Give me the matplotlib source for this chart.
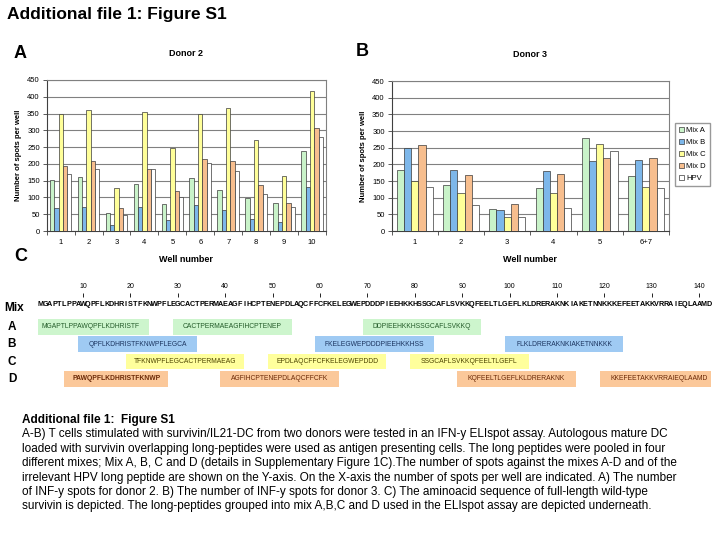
import matplotlib
matplotlib.use('Agg')
import matplotlib.pyplot as plt
import matplotlib.transforms as mtransforms
import numpy as np

plt.rcParams['font.family'] = ['Liberation Sans', 'DejaVu Sans']

# data - donor 2
wells_d2 = ['1', '2', '3', '4', '5', '6', '7', '8', '9', '10']
d2_mix_a = [153, 160, 53, 140, 80, 157, 122, 97, 82, 239]
d2_mix_b = [70, 73, 18, 73, 33, 78, 63, 37, 27, 132]
d2_mix_c = [348, 362, 129, 356, 246, 348, 367, 270, 164, 418]
d2_mix_d = [193, 209, 70, 186, 118, 215, 209, 138, 84, 307]
d2_hpv = [170, 186, 49, 186, 100, 202, 179, 111, 72, 281]

# data - donor 3
wells_d3 = ['1', '2', '3', '4', '5', '6+7']
d3_mix_a = [183, 139, 65, 130, 280, 166]
d3_mix_b = [248, 183, 62, 180, 210, 213]
d3_mix_c = [150, 113, 41, 113, 262, 132]
d3_mix_d = [258, 168, 82, 171, 220, 220]
d3_hpv = [131, 78, 41, 70, 241, 129]

series_names = ['Mix A', 'Mix B', 'Mix C', 'Mix D', 'HPV']
bar_colors = ['#c9f3c9', '#7db7ea', '#ffff99', '#f7be8e', '#ffffff']

# survivin sequence and long peptides
survivin = ('MGAPTLPPAWQPFLKDHRISTFKNWPFLEGCACTPERMAEAGFIHCPTENEPDLAQCFFC'
            'FKELEGWEPDDDPIEEHKKHSSGCAFLSVKKQFEELTLGEFLKLDRERAKNKIAKETNNK'
            'KKEFEETAKKVRRAIEQLAAMD')
mix_labels = ['A', 'B', 'C', 'D']
mix_a_pep = ['MGAPTLPPAWQPFLKDHRISTF', 'CACTPERMAEAGFIHCPTENEP', 'DDPIEEHKKHSSGCAFLSVKKQ']
mix_b_pep = ['QPFLKDHRISTFKNWPFLEGCA', 'FKELEGWEPDDDPIEEHKKHSS', 'FLKLDRERAKNKIAKETNNKKK']
mix_c_pep = ['TFKNWPFLEGCACTPERMAEAG', 'EPDLAQCFFCFKELEGWEPDDD', 'SSGCAFLSVKKQFEELTLGEFL']
mix_d_pep = ['PAWQPFLKDHRISTFKNWP', 'AGFIHCPTENEPDLAQCFFCFK', 'KQFEELTLGEFLKLDRERAKNK',
             'KKEFEETAKKVRRAIEQLAAMD']
pep_fill = ['#cdf5cd', '#9fcaf3', '#ffff9c', '#fbc89a']
pep_text = ['#245c2a', '#1c3560', '#4d4500', '#6b2a08']

caption_lines = [
    'A-B) T cells stimulated with survivin/IL21-DC from two donors were tested in an IFN-y ELIspot assay. Autologous mature DC',
    'loaded with survivin overlapping long-peptides were used as antigen presenting cells. The long peptides were pooled in four',
    'different mixes; Mix A, B, C and D (details in Supplementary Figure 1C).The number of spots against the mixes A-D and of the',
    'irrelevant HPV long peptide are shown on the Y-axis. On the X-axis the number of spots per well are indicated. A) The number',
    'of INF-y spots for donor 2. B) The number of INF-y spots for donor 3. C) The aminoacid sequence of full-length wild-type',
    'survivin is depicted. The long-peptides grouped into mix A,B,C and D used in the ELIspot assay are depicted underneath.',
]

W, H = 720, 540
fig = plt.figure(figsize=(7.2, 5.4), dpi=100)


def px(x0, y0, x1, y1):
    # pixel box -> figure fraction rect
    return [x0 / W, 1 - y1 / H, (x1 - x0) / W, (y1 - y0) / H]


def bar_chart(ax, wells, data, title):
    x = np.arange(len(wells))
    w = 0.155
    for i, vals in enumerate(data):
        ax.bar(x + (i - 2) * w, vals, w, color=bar_colors[i], edgecolor='#3a3a3a',
               linewidth=0.5, label=series_names[i], zorder=3)
    ax.set_xlim(-0.5, len(wells) - 0.5)
    ax.set_ylim(0, 450)
    ax.set_yticks(np.arange(0, 451, 50))
    ax.yaxis.grid(True, color='#808080', linewidth=0.8, zorder=0)
    ax.set_xticks(x)
    ax.set_xticklabels(wells)
    ax.set_xticks(np.arange(-0.5, len(wells), 1), minor=True)
    ax.tick_params(axis='x', which='major', length=0, labelsize=5.5, pad=6)
    ax.tick_params(axis='x', which='minor', length=3, width=0.6, color='#404040')
    ax.tick_params(axis='y', length=3, width=0.6, labelsize=5.5, color='#404040', pad=2)
    for s in ax.spines.values():
        s.set_color('#808080')
        s.set_linewidth(0.8)
    ax.spines['bottom'].set_color('#404040')
    ax.spines['left'].set_color('#404040')
    ax.set_ylabel('Number of spots per well', fontsize=5.5, fontweight='bold', labelpad=4)
    ax.set_xlabel('Well number', fontsize=6.5, fontweight='bold', labelpad=6)
    ax.set_title(title, fontsize=6.5, fontweight='bold', pad=17)


# title
fig.text(7 / W, 1 - 15 / H, 'Additional file 1: Figure S1', fontsize=12.5, fontweight='bold',
         va='center', ha='left')

# panel A
ax1 = fig.add_axes(px(46.7, 80, 326, 231))
bar_chart(ax1, wells_d2, [d2_mix_a, d2_mix_b, d2_mix_c, d2_mix_d, d2_hpv], 'Donor 2')
fig.text(14 / W, 1 - 54 / H, 'A', fontsize=13, fontweight='bold', va='center')

# panel B
ax2 = fig.add_axes(px(391.7, 81, 669, 231))
bar_chart(ax2, wells_d3, [d3_mix_a, d3_mix_b, d3_mix_c, d3_mix_d, d3_hpv], 'Donor 3')
fig.text(356 / W, 1 - 52 / H, 'B', fontsize=13, fontweight='bold', va='center')
ax2.legend(loc='upper left', bbox_to_anchor=(675 / W, 1 - 123 / H), bbox_transform=fig.transFigure,
           fontsize=5.5, frameon=True, fancybox=False, edgecolor='#808080', handlelength=0.7,
           handleheight=0.7, borderpad=0.5, labelspacing=0.6, handletextpad=0.3, borderaxespad=0)

# panel C
fig.text(14 / W, 1 - 257 / H, 'C', fontsize=13, fontweight='bold', va='center')
axc = fig.add_axes(px(38, 278, 711, 392))
axc.set_xlim(0, len(survivin))
axc.set_ylim(3.75, -2.8)
axc.axis('off')

for i, aa in enumerate(survivin):
    axc.text(i + 0.5, -1.3, aa, ha='center', va='center', fontsize=5.2, fontweight='bold')
nums = np.arange(10, 141, 10)
axc.vlines(nums - 0.5, -1.95, -1.7, color='k', linewidth=0.6)
for n in nums:
    axc.text(n - 0.5, -2.3, str(n), ha='center', va='center', fontsize=5)

all_peps = [mix_a_pep, mix_b_pep, mix_c_pep, mix_d_pep]
pad = 1.5
for row, peps in enumerate(all_peps):
    starts = np.array([survivin.find(p) for p in peps])
    lens = np.array([len(p) for p in peps])
    axc.barh(np.full(len(peps), row), lens + 2 * pad, left=starts - pad, height=0.9,
             color=pep_fill[row], edgecolor='none')
    for st, ln, p in zip(starts, lens, peps):
        bold = 'bold' if (row == 3 and st < 20) else 'normal'
        axc.text(st + ln / 2, row, p, ha='center', va='center', fontsize=4.9,
                 color=pep_text[row], fontweight=bold)

trans = mtransforms.blended_transform_factory(fig.transFigure, axc.transData)
axc.text(14 / W, -1.05, 'Mix', transform=trans, ha='center', va='center', fontsize=8.5,
         fontweight='bold')
for row, lab in enumerate(mix_labels):
    axc.text(12 / W, row, lab, transform=trans, ha='center', va='center', fontsize=8.5,
             fontweight='bold')

# caption
fig.text(22 / W, 1 - 420 / H, 'Additional file 1:  Figure S1', fontsize=8.5, fontweight='bold',
         va='center', ha='left')
for k, line in enumerate(caption_lines):
    fig.text(22 / W, 1 - (434.5 + 14.4 * k) / H, line, fontsize=8.5, va='center', ha='left')

fig.savefig('out.png', dpi=100)
